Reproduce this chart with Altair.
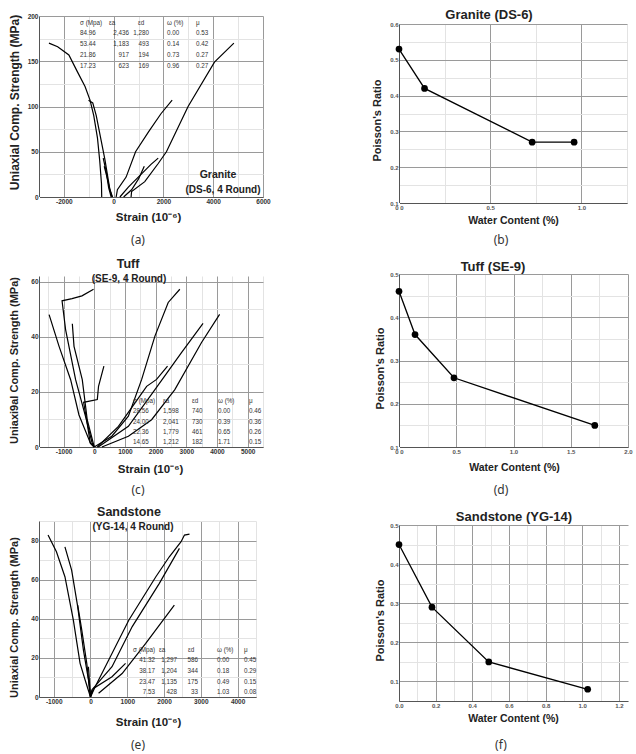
import altair as alt
import pandas as pd

FONT = "Liberation Sans"

# ---------------- (a) Granite DS-6, 4 round : stress-strain curves ----------------
A1_AX_X = [700, 720, 1250, 1790, 2120, 2990, 4050, 4830]
A1_AX_Y = [0, 6, 17, 37, 50, 100, 149, 170]
A1_LAT_X = [-480, -490, -560, -650, -800, -950, -1150, -1450, -1800, -2250, -2600]
A1_LAT_Y = [0, 15, 40, 65, 90, 107, 122, 138, 157, 166, 170]
A2_AX_X = [100, 150, 500, 880, 1400, 1900, 2350]
A2_AX_Y = [0, 8, 22, 50, 72, 92, 107]
A2_LAT_X = [-50, -150, -350, -500, -700, -840, -1010]
A2_LAT_Y = [0, 8, 41, 62, 90, 104, 107]
A3_AX_X = [250, 590, 1100, 1500, 1790]
A3_AX_Y = [0, 11, 25, 36, 43]
A3_LAT_X = [-100, -200, -300, -420]
A3_LAT_Y = [0, 10, 28, 43]
A4_AX_X = [400, 720, 1000, 1230]
A4_AX_Y = [0, 8, 20, 34]
A4_LAT_X = [-60, -150, -250, -380]
A4_LAT_Y = [0, 8, 20, 34]

A_SIGMA = [84.96, 53.44, 21.86, 17.23]
A_EA = [2436, 1183, 917, 623]
A_ED = [1280, 493, 194, 169]
A_W = [0.00, 0.14, 0.73, 0.96]
A_MU = [0.53, 0.42, 0.27, 0.27]

# ---------------- (b) Granite DS-6 : Poisson's ratio ----------------
B_WATER = [0.00, 0.14, 0.73, 0.96]
B_POISSON = [0.53, 0.42, 0.27, 0.27]

# ---------------- (c) Tuff SE-9, 4 round ----------------
C1_AX_X = [0, 573, 1113, 1546, 1978, 2411, 2789]
C1_AX_Y = [0, 3.9, 11.2, 24.5, 40.2, 52.4, 57.2]
C1_LAT_X = [0, -65, -282, -607, -932, -1049, -724, -400, -22]
C1_LAT_Y = [0, 1.3, 11, 24.4, 42.5, 53, 53.8, 54.8, 57.2]
C2_AX_X = [250, 1113, 1870, 2627, 3492, 4086]
C2_AX_Y = [0, 3.9, 9.9, 20.8, 37.8, 48.1]
C2_LAT_X = [0, -120, -497, -769, -1146, -1471]
C2_LAT_Y = [0, 1.3, 11.6, 24.4, 36.5, 48]
C3_AX_X = [130, 1113, 1978, 2843, 3546]
C3_AX_Y = [0, 7.5, 20.8, 34.2, 44.8]
C3_LAT_X = [0, -227, -390, -659, -714]
C3_LAT_Y = [0, 9.8, 24.4, 36.5, 44.7]
C4_AX_X = [100, 789, 1330, 1708, 2032, 2389]
C4_AX_Y = [0, 7.5, 16, 22, 24.5, 29.3]
C4_LAT_X = [0, -130, -250, -346, 100, 140, 315]
C4_LAT_Y = [0, 1.5, 10, 16.2, 17.2, 22, 29.3]

C_SIGMA = [28.56, 24.00, 22.36, 14.65]
C_EA = [1598, 2041, 1779, 1212]
C_ED = [740, 730, 461, 182]
C_W = [0.00, 0.39, 0.65, 1.71]
C_MU = [0.46, 0.36, 0.26, 0.15]

# ---------------- (d) Tuff SE-9 : Poisson's ratio ----------------
D_WATER = [0.00, 0.14, 0.48, 1.71]
D_POISSON = [0.46, 0.36, 0.26, 0.15]

# ---------------- (e) Sandstone YG-14, 4 round ----------------
E1_AX_X = [0, 128, 495, 1044, 1777, 2143, 2463, 2555, 2692]
E1_AX_Y = [0, 5.3, 18.9, 39.4, 61.5, 71.7, 79.4, 82.8, 83.3]
E1_LAT_X = [0, -146, -283, -467, -695, -926, -1154]
E1_LAT_Y = [0, 8.7, 17.2, 39.4, 61.5, 74.3, 82.8]
E2_AX_X = [0, 36, 585, 1135, 1868, 2418]
E2_AX_Y = [0, 3.6, 15.5, 36, 58, 76]
E2_LAT_X = [0, -55, -192, -348, -513, -695]
E2_LAT_Y = [0, 8.7, 24, 46.2, 64.9, 76.8]
E3_AX_X = [220, 860, 1502, 2280]
E3_AX_Y = [1.9, 12, 27.4, 47]
E3_LAT_X = [0, -101, -238, -348]
E3_LAT_Y = [0, 17.2, 34.3, 47]
E4_AX_X = [0, 82, 585, 953]
E4_AX_Y = [0, 4.4, 10.4, 17.2]
E4_LAT_X = [0, -55]
E4_LAT_Y = [0, 15.5]

E_SIGMA = [41.32, 38.17, 23.47, 7.53]
E_EA = [1297, 1204, 1135, 428]
E_ED = [586, 344, 175, 33]
E_W = [0.00, 0.18, 0.49, 1.03]
E_MU = [0.45, 0.29, 0.15, 0.08]

# ---------------- (f) Sandstone YG-14 : Poisson's ratio ----------------
F_WATER = [0.00, 0.18, 0.49, 1.03]
F_POISSON = [0.45, 0.29, 0.15, 0.08]

TABLE_HEADER = ["σ (Mpa)", "εa", "εd", "ω (%)", "μ"]

MAJOR = "#9a9a9a"
MINOR = "#e3e3e3"


def frange(a, b, s):
    n = int(round((b - a) / s))
    return [round(a + k * s, 6) for k in range(n + 1)]


def split_ticks(a, b, minor_step, major_step):
    allv = frange(a, b, minor_step)
    major = [v for v in allv if abs(v / major_step - round(v / major_step)) < 1e-6]
    minor = [v for v in allv if v not in major]
    return major, minor


def major_axis(values, fmt, title, tsize, tx, ty, vertical, lsize, lcolor):
    kw = dict(
        values=values,
        labelExpr=fmt,
        ticks=False,
        grid=True,
        gridColor=MAJOR,
        gridWidth=1,
        domainColor="#555555",
        domainWidth=1,
        labelFont=FONT,
        labelFontSize=lsize,
        labelFontWeight="bold",
        labelColor=lcolor,
        labelPadding=1,
        labelOverlap=False,
        labelFlush=False,
        title=title,
        titleFont=FONT,
        titleFontSize=tsize,
        titleFontWeight="bold",
        titleColor="#222222",
        titleX=tx,
        titleY=ty,
        titleBaseline="middle",
        titleAlign="center",
    )
    if vertical:
        kw["titleAngle"] = 270
    return alt.Axis(**kw)


def minor_axis(values, orient):
    return alt.Axis(values=values, orient=orient, labels=False, ticks=False, domain=False,
                    grid=True, gridColor=MINOR, gridWidth=1, title=None,
                    minExtent=0, maxExtent=0, offset=0)


def text_layer(txt, x, y, size, weight="normal", font=FONT, color="#222222"):
    return alt.Chart(pd.DataFrame({"t": [txt]})).mark_text(
        font=font, fontSize=size, fontWeight=weight, color=color,
        align="center", baseline="middle"
    ).encode(x=alt.value(x), y=alt.value(y), text="t:N")


def curve_frame(curves):
    rows = []
    for name, xs, ys in curves:
        for i, (x, y) in enumerate(zip(xs, ys)):
            rows.append({"curve": name, "i": i, "x": x, "y": y})
    return pd.DataFrame(rows)


def table_frame(sig, ea, ed, w, mu, header_y, row_y, cols, xdom, ydom, width, height):
    cells_cols = [
        [f"{v:.2f}" for v in sig],
        [f"{v:,}" for v in ea],
        [f"{v:,}" for v in ed],
        [f"{v:.2f}" for v in w],
        [f"{v:.2f}" for v in mu],
    ]
    rows = []

    def px2x(px):
        return xdom[0] + px / width * (xdom[1] - xdom[0])

    def px2y(py):
        return ydom[1] - py / height * (ydom[1] - ydom[0])

    for k, (hx, ha, vx, va) in enumerate(cols):
        rows.append({"t": TABLE_HEADER[k], "x": px2x(hx), "y": px2y(header_y), "al": ha})
        for r, txt in enumerate(cells_cols[k]):
            rows.append({"t": txt, "x": px2x(vx), "y": px2y(row_y[r]), "al": va})
    return pd.DataFrame(rows)


def strain_panel(curves, tbl, xdom, ydom, width, height, xticks, yticks,
                 ytitle, ytsize, xt_pos, yt_pos, texts):
    xs = alt.Scale(domain=xdom, nice=False, zero=False)
    ys = alt.Scale(domain=ydom, nice=False, zero=False)
    xmaj, xmin = split_ticks(*xticks)
    ymaj, ymin = split_ticks(*yticks)
    xaxis = major_axis(xmaj, "'' + datum.value", "Strain (10⁻⁶)", 11.5,
                       xt_pos[0], xt_pos[1], False, 6.5, "#333333")
    yaxis = major_axis(ymaj, "'' + datum.value", ytitle, ytsize,
                       yt_pos[0], yt_pos[1], True, 6.5, "#333333")
    df = curve_frame(curves)
    lines = alt.Chart(df).mark_line(color="black", strokeWidth=1.2).encode(
        x=alt.X("x:Q", scale=xs, axis=xaxis),
        y=alt.Y("y:Q", scale=ys, axis=yaxis),
        detail="curve:N",
        order="i:Q",
    )
    layers = [lines]
    first = True
    for al in ["left", "right"]:
        sub = tbl[tbl["al"] == al]
        if len(sub):
            if first:
                enc = dict(x=alt.X("x:Q", scale=xs, axis=minor_axis(xmin, "top")),
                           y=alt.Y("y:Q", scale=ys, axis=minor_axis(ymin, "right")))
                first = False
            else:
                enc = dict(x=alt.X("x:Q", scale=xs, axis=None),
                           y=alt.Y("y:Q", scale=ys, axis=None))
            layers.append(
                alt.Chart(sub).mark_text(font=FONT, fontSize=6.3, color="#333333",
                                         align=al, baseline="middle").encode(text="t:N", **enc)
            )
    layers = layers + texts
    return alt.layer(*layers).resolve_axis(x="independent", y="independent").properties(
        width=width, height=height)


def ratio_panel(wx, mu, xdom, ydom, width, height, xticks, yticks,
                xt_pos, yt_pos, texts):
    xs = alt.Scale(domain=xdom, nice=False, zero=False)
    ys = alt.Scale(domain=ydom, nice=False, zero=False)
    xmaj, xmin = split_ticks(*xticks)
    ymaj, ymin = split_ticks(*yticks)
    xaxis = major_axis(xmaj, "format(datum.value, '.1f')", "Water Content (%)", 10.5,
                       xt_pos[0], xt_pos[1], False, 6, "#555555")
    yaxis = major_axis(ymaj, "format(datum.value, '.1f')", "Poisson's Ratio", 11,
                       yt_pos[0], yt_pos[1], True, 6, "#555555")
    df = pd.DataFrame({"w": wx, "mu": mu})
    line = alt.Chart(df).mark_line(color="black", strokeWidth=1.3).encode(
        x=alt.X("w:Q", scale=xs, axis=xaxis), y=alt.Y("mu:Q", scale=ys, axis=yaxis))
    pts = alt.Chart(df).mark_point(filled=True, size=45, color="black", opacity=1).encode(
        x=alt.X("w:Q", scale=xs, axis=minor_axis(xmin, "top")),
        y=alt.Y("mu:Q", scale=ys, axis=minor_axis(ymin, "right")))
    return alt.layer(line, pts, *texts).resolve_axis(x="independent", y="independent").properties(
        width=width, height=height)


def spacer(h):
    return alt.Chart(pd.DataFrame({"v": [0]})).mark_rect(color="white").encode(
        x=alt.value(0), x2=alt.value(1), y=alt.value(0), y2=alt.value(h)
    ).properties(width=1, height=h)


LBL_FONT = "Noto Sans"

# ---- (a)
A_XDOM, A_YDOM, A_W_, A_H_ = [-3000, 6000], [0, 200], 224, 181
a_tbl = table_frame(A_SIGMA, A_EA, A_ED, A_W, A_MU, 7, [17, 28, 39, 50],
                    [(41, "left", 41, "left"), (70, "left", 90, "right"), (99, "left", 110, "right"),
                     (128, "left", 128, "left"), (157, "left", 157, "left")],
                    A_XDOM, A_YDOM, A_W_, A_H_)
pa = strain_panel(
    [("1ax", A1_AX_X, A1_AX_Y), ("1lat", A1_LAT_X, A1_LAT_Y),
     ("2ax", A2_AX_X, A2_AX_Y), ("2lat", A2_LAT_X, A2_LAT_Y),
     ("3ax", A3_AX_X, A3_AX_Y), ("3lat", A3_LAT_X, A3_LAT_Y),
     ("4ax", A4_AX_X, A4_AX_Y), ("4lat", A4_LAT_X, A4_LAT_Y)],
    a_tbl, A_XDOM, A_YDOM, A_W_, A_H_,
    (-2000, 6000, 1000, 2000), (0, 200, 25, 50),
    "Uniaxial Comp. Strength (MPa)", 12, (109, 20), (-25, 86),
    [text_layer("Granite", 179, 159, 10.5, "bold"),
     text_layer("(DS-6, 4 Round)", 184, 174, 10, "bold"),
     text_layer("(a)", 99, 224, 12, "normal", LBL_FONT, "#333333")],
)

# ---- (c)
C_XDOM, C_YDOM, C_W_, C_H_ = [-1800, 5500], [0, 62], 224, 171
c_tbl = table_frame(C_SIGMA, C_EA, C_ED, C_W, C_MU, 125, [135, 146, 156, 166],
                    [(94, "left", 94, "left"), (124, "left", 124, "left"), (153, "left", 153, "left"),
                     (179, "left", 179, "left"), (210, "left", 210, "left")],
                    C_XDOM, C_YDOM, C_W_, C_H_)
pc = strain_panel(
    [("1ax", C1_AX_X, C1_AX_Y), ("1lat", C1_LAT_X, C1_LAT_Y),
     ("2ax", C2_AX_X, C2_AX_Y), ("2lat", C2_LAT_X, C2_LAT_Y),
     ("3ax", C3_AX_X, C3_AX_Y), ("3lat", C3_LAT_X, C3_LAT_Y),
     ("4ax", C4_AX_X, C4_AX_Y), ("4lat", C4_LAT_X, C4_LAT_Y)],
    c_tbl, C_XDOM, C_YDOM, C_W_, C_H_,
    (-1500, 5500, 500, 1000), (0, 60, 10, 20),
    "Uniaxi9al Comp. Strength (MPa)", 11, (111, 22), (-25, 84),
    [text_layer("Tuff", 89, -12, 12.5, "bold"),
     text_layer("(SE-9, 4 Round)", 90, 3, 10, "bold"),
     text_layer("(c)", 99, 214, 12, "normal", LBL_FONT, "#333333")],
)

# ---- (e)
E_XDOM, E_YDOM, E_W_, E_H_ = [-1400, 4500], [0, 90], 217, 176
e_tbl = table_frame(E_SIGMA, E_EA, E_ED, E_W, E_MU, 129, [139, 150, 161, 171],
                    [(94, "left", 116, "right"), (120, "left", 138, "right"), (149, "left", 159, "right"),
                     (178, "left", 178, "left"), (205, "left", 205, "left")],
                    E_XDOM, E_YDOM, E_W_, E_H_)
pe = strain_panel(
    [("1ax", E1_AX_X, E1_AX_Y), ("1lat", E1_LAT_X, E1_LAT_Y),
     ("2ax", E2_AX_X, E2_AX_Y), ("2lat", E2_LAT_X, E2_LAT_Y),
     ("3ax", E3_AX_X, E3_AX_Y), ("3lat", E3_LAT_X, E3_LAT_Y),
     ("4ax", E4_AX_X, E4_AX_Y), ("4lat", E4_LAT_X, E4_LAT_Y)],
    e_tbl, E_XDOM, E_YDOM, E_W_, E_H_,
    (-1000, 4500, 500, 1000), (0, 90, 10, 20),
    "Uniaxial Comp. Strength (MPa)", 11, (109, 25), (-25, 96),
    [text_layer("Sandstone", 90, -9, 12.5, "bold"),
     text_layer("(YG-14, 4 Round)", 94, 6, 10, "bold"),
     text_layer("(e)", 99, 224, 12, "normal", LBL_FONT, "#333333")],
)

# ---- (b)
pb = ratio_panel(B_WATER, B_POISSON, [0, 1.25], [0.1, 0.6], 228, 179,
                 (0, 1.25, 0.25, 0.5), (0.1, 0.6, 0.05, 0.1),
                 (114, 17), (-22, 96),
                 [text_layer("Granite (DS-6)", 90, -9, 13, "bold"),
                  text_layer("(b)", 102, 216, 12, "normal", LBL_FONT, "#333333")])

# ---- (d)
pdd = ratio_panel(D_WATER, D_POISSON, [0, 2.0], [0.1, 0.5], 229, 173,
                  (0, 2.0, 0.25, 0.5), (0.1, 0.5, 0.05, 0.1),
                  (115, 20), (-19, 94),
                  [text_layer("Tuff (SE-9)", 94, -7, 13, "bold"),
                   text_layer("(d)", 102, 216, 12, "normal", LBL_FONT, "#333333")])

# ---- (f)
pf = ratio_panel(F_WATER, F_POISSON, [0, 1.25], [0.05, 0.5], 229, 176,
                 (0, 1.2, 0.1, 0.2), (0.05, 0.5, 0.05, 0.1),
                 (114, 17), (-19, 95),
                 [text_layer("Sandstone (YG-14)", 115, -8, 13, "bold"),
                  text_layer("(f)", 102, 220, 12, "normal", LBL_FONT, "#333333")])

left = alt.vconcat(spacer(16), pa, spacer(79), pc, spacer(74), pe, spacing=0, bounds="flush")
right = alt.vconcat(spacer(24), pb, spacer(71), pdd, spacer(78), pf, spacing=0, bounds="flush")

chart = alt.hconcat(left, right, spacing=100).properties(
    padding={"left": 7, "top": 0, "right": 2, "bottom": 2},
    background="white",
).configure_view(stroke=None).configure_axis(labelOverlap=False)

chart.save("out.html", embed_options={"renderer": "svg", "actions": False})
